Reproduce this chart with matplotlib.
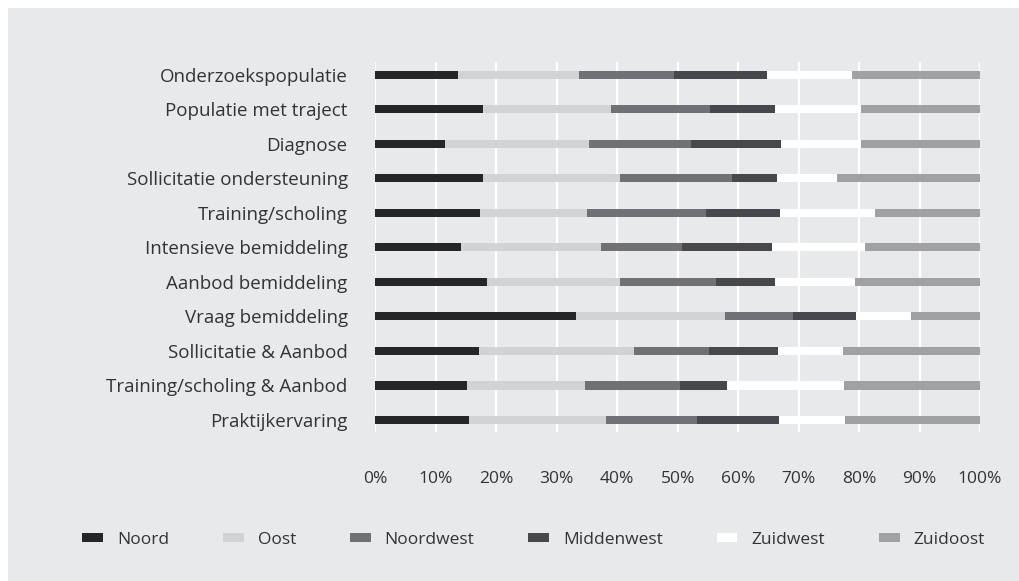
import matplotlib
matplotlib.use('Agg')
import matplotlib.pyplot as plt
from matplotlib.patches import Patch, Rectangle
import numpy as np

# categories, top to bottom
categories = [
    'Onderzoekspopulatie',
    'Populatie met traject',
    'Diagnose',
    'Sollicitatie ondersteuning',
    'Training/scholing',
    'Intensieve bemiddeling',
    'Aanbod bemiddeling',
    'Vraag bemiddeling',
    'Sollicitatie & Aanbod',
    'Training/scholing & Aanbod',
    'Praktijkervaring',
]

regions = ['Noord', 'Oost', 'Noordwest', 'Middenwest', 'Zuidwest', 'Zuidoost']

# shares per region (%)
noord = [13.6, 17.8, 11.5, 17.8, 17.3, 14.2, 18.4, 33.1, 17.2, 15.2, 15.5]
oost = [20.1, 21.2, 23.9, 22.6, 17.7, 23.1, 22.1, 24.7, 25.6, 19.5, 22.7]
noordwest = [15.7, 16.3, 16.8, 18.6, 19.7, 13.4, 15.8, 11.3, 12.3, 15.7, 15.0]
middenwest = [15.4, 10.8, 14.9, 7.5, 12.2, 14.9, 9.8, 10.4, 11.5, 7.8, 13.6]
zuidwest = [14.0, 14.2, 13.2, 9.9, 15.8, 15.4, 13.3, 9.1, 10.7, 19.3, 10.9]
zuidoost = [21.2, 19.7, 19.7, 23.6, 17.3, 19.0, 20.6, 11.4, 22.7, 22.5, 22.3]

colors = ['#262628', '#d2d3d5', '#717074', '#48474c', '#ffffff', '#a1a1a4']
bg = '#e8e9eb'
txt = '#333333'

plt.rcParams['font.family'] = ['Open Sans', 'DejaVu Sans']

fig = plt.figure(figsize=(10.2, 5.81), dpi=100)
fig.patch.set_facecolor('white')
# grey panel behind everything
fig.patches.append(Rectangle((8 / 1020, 0), 1 - 8 / 1020, 1 - 8 / 581,
                             transform=fig.transFigure, facecolor=bg,
                             edgecolor='none', zorder=-10))

ax = fig.add_axes([0.3681, 0.2565, 0.5927, 0.6368])
ax.set_facecolor(bg)

series = [noord, oost, noordwest, middenwest, zuidwest, zuidoost]
y = np.arange(len(categories))
left = np.zeros(len(categories))
for vals, col, name in zip(series, colors, regions):
    vals = np.array(vals)
    ax.barh(y, vals, left=left, height=0.24, color=col, label=name, zorder=3)
    left += vals

ax.set_xlim(0, 100)
ax.set_ylim(10.35, -0.37)
ax.set_xticks(np.arange(0, 101, 10))
ax.set_xticklabels([f'{v}%' for v in range(0, 101, 10)])
ax.set_yticks(y)
ax.set_yticklabels(categories)
ax.grid(axis='x', color='white', linewidth=1.6, zorder=0)
ax.tick_params(axis='both', length=0, colors=txt)
ax.tick_params(axis='x', pad=28, labelsize=12.5)
ax.tick_params(axis='y', pad=20, labelsize=13.5)
for s in ax.spines.values():
    s.set_visible(False)

handles = [Patch(facecolor=c, edgecolor='none') for c in colors]
fig.legend(handles, regions, loc='center', bbox_to_anchor=(0.523, 1 - 540 / 581),
           ncol=6, frameon=False, fontsize=12.5, labelcolor=txt,
           handlelength=1.2, handleheight=0.4, handletextpad=0.8,
           columnspacing=3.1)

fig.savefig('out.png', dpi=100, facecolor=fig.get_facecolor())
